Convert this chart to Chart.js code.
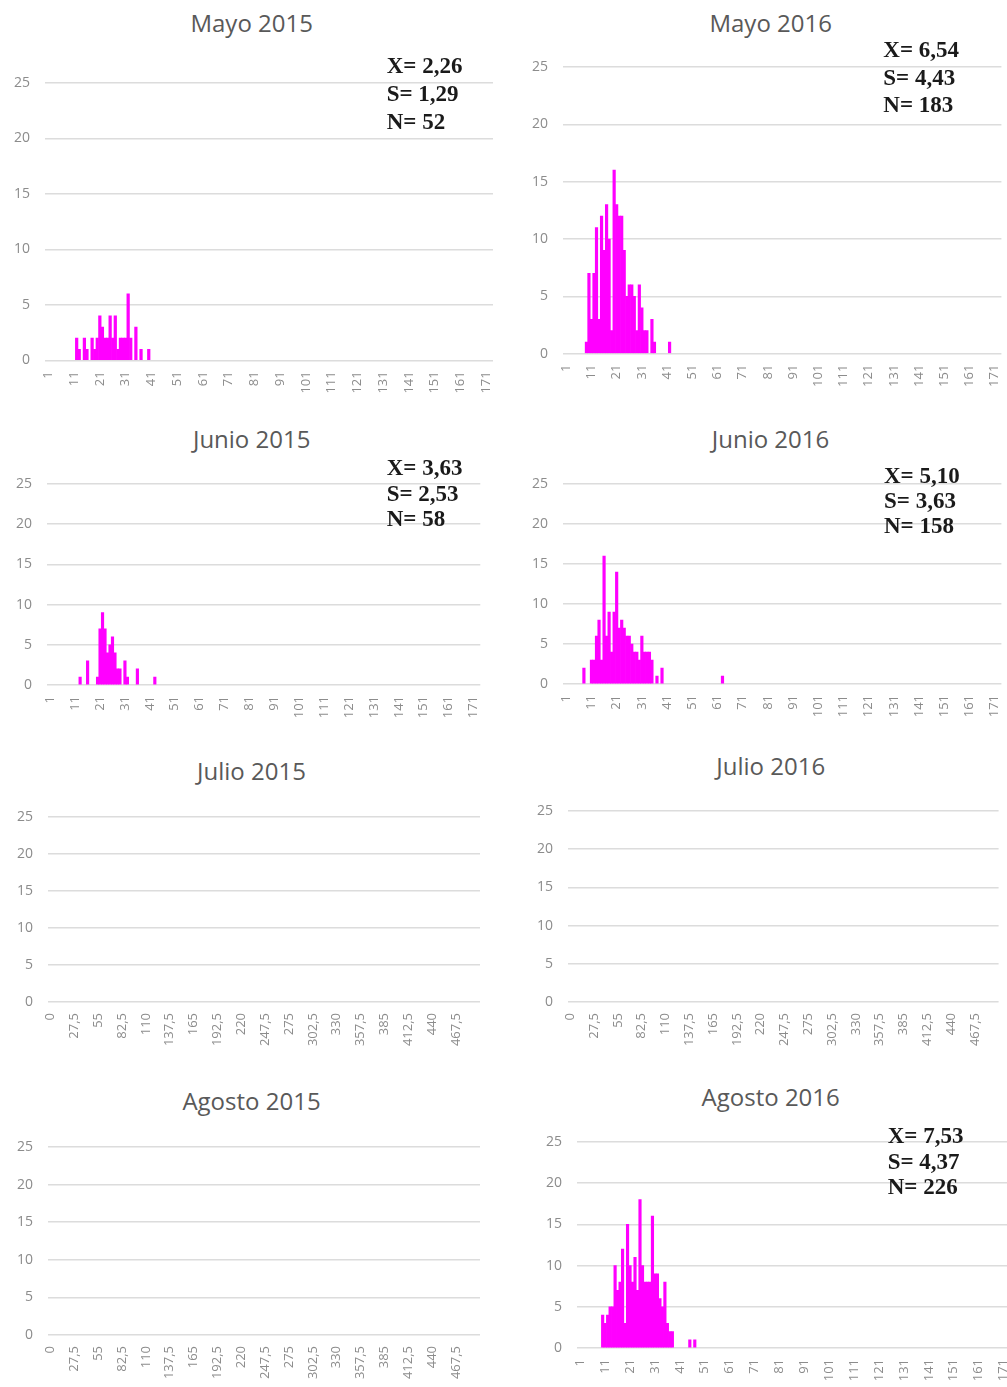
<!DOCTYPE html>
<html>
<head>
<meta charset="utf-8">
<script src="https://cdn.jsdelivr.net/npm/chart.js@4.4.1/dist/chart.umd.min.js"></script>
<style>
  html, body { margin: 0; padding: 0; background: #ffffff; }
  body { position: relative; width: 1007px; height: 1387px; overflow: hidden; }
  canvas { position: absolute; }
  .title {
    position: absolute; transform: translate(-50%, -50%);
    font-family: 'Open Sans', 'Noto Sans', sans-serif; font-size: 24px;
    color: #595959; white-space: nowrap; line-height: 1;
  }
  .stat {
    position: absolute; transform: translateY(-50%);
    font-family: 'Liberation Serif', 'Times New Roman', serif; font-weight: bold;
    font-size: 23px; color: #1a1a1a; white-space: nowrap; line-height: 1;
  }
</style>
</head>
<body>
<script>
// ---- tick labels ----
const binTicks = [1, 11, 21, 31, 41, 51, 61, 71, 81, 91, 101, 111, 121, 131, 141, 151, 161, 171];
const lengthTicks = [0, 27.5, 55, 82.5, 110, 137.5, 165, 192.5, 220, 247.5, 275, 302.5, 330, 357.5, 385, 412.5, 440, 467.5];
const countTicks = [0, 5, 10, 15, 20, 25];

// ---- panel titles ----
const titles = ['Mayo 2015', 'Mayo 2016', 'Junio 2015', 'Junio 2016',
                'Julio 2015', 'Julio 2016', 'Agosto 2015', 'Agosto 2016'];

// ---- frequencies (first bin + consecutive counts) ----
const mayo2015Start = 12;
const mayo2015Counts = [2, 1, 0, 2, 1, 0, 2, 1, 2, 4, 3, 2, 2, 4, 2, 4, 1, 2, 2, 2, 6, 2, 0, 3, 0, 1, 0, 0, 1];

const mayo2016Start = 9;
const mayo2016Counts = [1, 7, 3, 7, 11, 3, 12, 9, 13, 10, 2, 16, 13, 12, 12, 9, 5, 6, 6, 5,
                        2, 6, 4, 2, 2, 0, 3, 1, 0, 0, 0, 0, 0, 1];

const junio2015Start = 13;
const junio2015Counts = [1, 0, 0, 3, 0, 0, 0, 1, 7, 9, 7, 4, 5, 6, 4, 2, 2, 0, 3, 1,
                         0, 0, 0, 2, 0, 0, 0, 0, 0, 0, 1];

const junio2016Start = 8;
const junio2016Counts = [2, 0, 0, 3, 3, 6, 8, 3, 16, 6, 9, 4, 9, 14, 7, 8, 7, 6, 6, 5,
                         4, 4, 3, 6, 4, 4, 4, 3, 0, 1, 0, 2, 0, 0, 0, 0, 0, 0, 0, 0,
                         0, 0, 0, 0, 0, 0, 0, 0, 0, 0, 0, 0, 0, 0, 0, 1];

const julio2015Counts = [];
const julio2016Counts = [];
const agosto2015Counts = [];

const agosto2016Start = 10;
const agosto2016Counts = [4, 3, 4, 5, 5, 10, 7, 8, 12, 3, 15, 10, 8, 11, 7, 18, 10, 8, 8, 8,
                          16, 9, 9, 6, 5, 8, 3, 2, 2, 0, 0, 0, 0, 0, 0, 1, 0, 1];

// ---- summary statistics ----
const mayo2015Stats = ['X= 2,26', 'S= 1,29', 'N= 52'];
const mayo2016Stats = ['X= 6,54', 'S= 4,43', 'N= 183'];
const junio2015Stats = ['X= 3,63', 'S= 2,53', 'N= 58'];
const junio2016Stats = ['X= 5,10', 'S= 3,63', 'N= 158'];
const agosto2016Stats = ['X= 7,53', 'S= 4,37', 'N= 226'];

// ---- layout of each panel (plot area in page pixels) ----
const panels = [
  { title: titles[0], start: mayo2015Start, counts: mayo2015Counts, ticks: binTicks, xMin: -0.3, xMax: 173.7,
    left: 45, right: 493, top: 82.7, bottom: 360, titleX: 251.7, titleY: 22.7,
    stats: mayo2015Stats, statX: 386.7, statY: [65, 92.7, 120.7] },
  { title: titles[1], start: mayo2016Start, counts: mayo2016Counts, ticks: binTicks, xMin: -0.3, xMax: 173.7,
    left: 563.3, right: 1001.7, top: 66.7, bottom: 353.3, titleX: 770.7, titleY: 22.7,
    stats: mayo2016Stats, statX: 883.3, statY: [49.3, 76.7, 104] },
  { title: titles[2], start: junio2015Start, counts: junio2015Counts, ticks: binTicks, xMin: -0.3, xMax: 173.7,
    left: 46.7, right: 480, top: 484, bottom: 685, titleX: 251.7, titleY: 439,
    stats: junio2015Stats, statX: 386.7, statY: [466.7, 492.7, 518.3] },
  { title: titles[3], start: junio2016Start, counts: junio2016Counts, ticks: binTicks, xMin: -0.3, xMax: 173.7,
    left: 563.3, right: 1001.7, top: 484, bottom: 684, titleX: 770.5, titleY: 438.5,
    stats: junio2016Stats, statX: 884, statY: [475, 500, 525] },
  { title: titles[4], start: 0, counts: julio2015Counts, ticks: lengthTicks, xMin: -2.75, xMax: 495,
    left: 48, right: 480, top: 817, bottom: 1002, titleX: 251.5, titleY: 770.5,
    stats: [], statX: 0, statY: [] },
  { title: titles[5], start: 0, counts: julio2016Counts, ticks: lengthTicks, xMin: -2.75, xMax: 495,
    left: 567.7, right: 998.3, top: 810.7, bottom: 1001.7, titleX: 770.7, titleY: 766,
    stats: [], statX: 0, statY: [] },
  { title: titles[6], start: 0, counts: agosto2015Counts, ticks: lengthTicks, xMin: -2.75, xMax: 495,
    left: 48, right: 480, top: 1147, bottom: 1335, titleX: 251.5, titleY: 1100.5,
    stats: [], statX: 0, statY: [] },
  { title: titles[7], start: agosto2016Start, counts: agosto2016Counts, ticks: binTicks, xMin: -0.3, xMax: 173.7,
    left: 576.7, right: 1010, top: 1142.3, bottom: 1348.3, titleX: 770.7, titleY: 1096.7,
    stats: agosto2016Stats, statX: 887.7, statY: [1135, 1160.7, 1186] }
];

const TICK_FONT = "'Open Sans', 'Noto Sans', sans-serif";
const Y_AXIS_W = 45;   // room for the count labels
const X_AXIS_H = 50;   // room for the rotated bin labels
const PAD_TOP = 12;
const PAD_RIGHT = 4;

function formatTick(v) {
  return String(v).replace('.', ',');
}

function addText(cls, text, x, y) {
  const d = document.createElement('div');
  d.className = cls;
  d.textContent = text;
  d.style.left = x + 'px';
  d.style.top = y + 'px';
  document.body.appendChild(d);
}

function buildPanel(p) {
  const plotW = p.right - p.left;
  const plotH = p.bottom - p.top;
  const W = Y_AXIS_W + plotW + PAD_RIGHT;
  const H = PAD_TOP + plotH + X_AXIS_H;
  const canvas = document.createElement('canvas');
  canvas.width = Math.ceil(W);
  canvas.height = Math.ceil(H);
  canvas.style.width = Math.ceil(W) + 'px';
  canvas.style.height = Math.ceil(H) + 'px';
  canvas.style.left = (p.left - Y_AXIS_W) + 'px';
  canvas.style.top = (p.top - PAD_TOP) + 'px';
  document.body.appendChild(canvas);

  // empty bins are left undrawn; the bin positions still set the bar width
  const points = p.counts.map((c, i) => ({ x: p.start + i, y: c === 0 ? null : c }));

  new Chart(canvas, {
    type: 'bar',
    data: {
      datasets: [{
        data: points,
        backgroundColor: '#ff00ff',
        borderWidth: 0,
        barPercentage: 1,
        categoryPercentage: 1
      }]
    },
    options: {
      responsive: false,
      animation: false,
      devicePixelRatio: 1,
      layout: {
        padding: {
          top: PAD_TOP,
          right: Math.ceil(W) - W + PAD_RIGHT,
          left: 0,
          bottom: Math.ceil(H) - H
        }
      },
      plugins: { legend: { display: false }, tooltip: { enabled: false }, title: { display: false } },
      scales: {
        x: {
          type: 'linear',
          min: p.xMin,
          max: p.xMax,
          offset: false,
          grid: { display: false, drawTicks: false },
          border: { display: false },
          afterBuildTicks: s => { s.ticks = p.ticks.map(v => ({ value: v })); },
          afterFit: s => {
            s.height = X_AXIS_H;
            s.paddingLeft = 0; s.paddingRight = 0; s.paddingTop = 0; s.paddingBottom = 0;
          },
          ticks: {
            autoSkip: false, maxRotation: 90, minRotation: 90, padding: 11,
            color: '#8c8c8c', font: { family: TICK_FONT, size: 13 },
            callback: v => formatTick(v)
          }
        },
        y: {
          min: 0,
          max: 25,
          afterBuildTicks: s => { s.ticks = countTicks.map(v => ({ value: v })); },
          afterFit: s => {
            s.width = Y_AXIS_W;
            s.paddingLeft = 0; s.paddingRight = 0; s.paddingTop = 0; s.paddingBottom = 0;
          },
          grid: { color: '#dcdcdc', lineWidth: 1.5, drawTicks: false },
          border: { display: false },
          ticks: { padding: 15, color: '#8c8c8c', font: { family: TICK_FONT, size: 14 } }
        }
      }
    }
  });

  addText('title', p.title, p.titleX, p.titleY);
  p.stats.forEach((s, i) => addText('stat', s, p.statX, p.statY[i]));
}

panels.forEach(buildPanel);
</script>
</body>
</html>
